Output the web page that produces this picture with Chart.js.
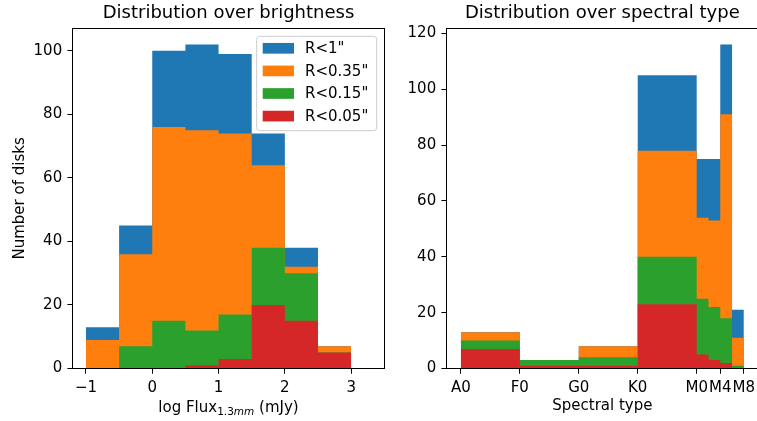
<!DOCTYPE html>
<html><head><meta charset="utf-8">
<script src="https://cdn.jsdelivr.net/npm/chart.js@4/dist/chart.umd.min.js"></script>
<style>
html,body{margin:0;padding:0;background:#fff;overflow:hidden;width:757px;height:421px}
#c1{position:absolute;left:0;top:0}
#c2{position:absolute;left:400px;top:0}
</style></head><body>
<canvas id="c1" width="400" height="421"></canvas>
<canvas id="c2" width="360" height="421"></canvas>
<script>
// ---- data ----
const seriesNames = ['R<1"', 'R<0.35"', 'R<0.15"', 'R<0.05"'];
const seriesColors = ['#1f77b4', '#ff7f0e', '#2ca02c', '#d62728'];

const fluxBinEdges = [-1, -0.5, 0, 0.5, 1, 1.5, 2, 2.5, 3];
const fluxR1   = [13, 45, 100, 102, 99, 74, 38, 7];
const fluxR035 = [9, 36, 76, 75, 74, 64, 32, 7];
const fluxR015 = [0, 7, 15, 12, 17, 38, 30, 5];
const fluxR005 = [0, 0, 0, 1, 3, 20, 15, 5];
const fluxTickValues = [-1, 0, 1, 2, 3];
const fluxTickLabels = ['\u22121', '0', '1', '2', '3'];
const fluxYTicks = [0, 20, 40, 60, 80, 100];

const sptBinEdges = [0, 10, 20, 30, 40, 42, 44, 46, 48];
const sptR1   = [13, 3, 8, 105, 75, 75, 116, 21];
const sptR035 = [13, 3, 8, 78, 54, 53, 91, 11];
const sptR015 = [10, 3, 4, 40, 25, 22, 18, 1];
const sptR005 = [7, 1, 1, 23, 5, 3, 2, 0];
const sptTickValues = [0, 10, 20, 30, 40, 44, 48];
const sptTickLabels = ['A0', 'F0', 'G0', 'K0', 'M0', 'M4', 'M8'];
const sptYTicks = [0, 20, 40, 60, 80, 100, 120];

// ---- helpers ----
Chart.defaults.font.family = '"DejaVu Sans", sans-serif';
Chart.defaults.font.size = 15;
Chart.defaults.color = '#000';

function histPoints(edges, counts) {
  const pts = counts.map((c, i) => ({ x: edges[i], y: c }));
  pts.push({ x: edges[edges.length - 1], y: 0 });
  return pts;
}
function makeDatasets(edges, list) {
  return list.map((counts, i) => ({
    label: seriesNames[i],
    data: histPoints(edges, counts),
    stepped: 'before',
    fill: 'origin',
    backgroundColor: seriesColors[i],
    borderColor: 'rgba(0,0,0,0)',
    borderWidth: 0,
    pointRadius: 0,
    pointHoverRadius: 0,
    order: list.length - i
  }));
}
function xAxis(min, max, values, labels, title) {
  return {
    type: 'linear', min: min, max: max,
    afterBuildTicks: s => { s.ticks = values.map(v => ({ value: v })); },
    ticks: { callback: v => labels[values.indexOf(v)], padding: 5.2, maxRotation: 0, autoSkip: false, color: '#000', font: { size: 15 } },
    grid: { display: true, drawOnChartArea: false, drawTicks: true, tickLength: 5.3, color: '#000', lineWidth: 1 },
    border: { display: true, color: '#000', width: 1 },
    title: title ? { display: true, text: title, color: '#000', font: { size: 15 }, padding: { top: 0, bottom: 6 } } : { display: false },
    afterFit: s => { s.height = 52.5; s.paddingLeft = 0; s.paddingRight = 0; }
  };
}
function yAxis(max, values, width, title) {
  return {
    type: 'linear', min: 0, max: max,
    afterBuildTicks: s => { s.ticks = values.map(v => ({ value: v })); },
    ticks: { callback: v => String(v), padding: 5.2, color: '#000', font: { size: 15 } },
    grid: { display: true, drawOnChartArea: false, drawTicks: true, tickLength: 5.3, color: '#000', lineWidth: 1 },
    border: { display: true, color: '#000', width: 1 },
    title: title ? { display: true, text: title, color: '#000', font: { size: 15 }, padding: { top: 11.5, bottom: 0 } } : { display: false },
    afterFit: s => { s.width = width; s.paddingTop = 0; s.paddingBottom = 0; }
  };
}
function align(p) { return Math.round(p - 0.5) + 0.5; }
const framePlugin = {
  id: 'frame',
  afterDatasetsDraw(chart) {
    const ctx = chart.ctx, ca = chart.chartArea;
    ctx.save();
    ctx.strokeStyle = '#000';
    ctx.lineWidth = 1;
    const l = align(ca.left), r = align(ca.right), t = align(ca.top), b = align(ca.bottom);
    ctx.strokeRect(l, t, r - l, b - t);
    ctx.restore();
  }
};
const legendPlugin = {
  id: 'mplLegend',
  afterDraw(chart) {
    const ctx = chart.ctx, ca = chart.chartArea;
    const x0 = ca.right - 127.6, y0 = ca.top + 8, w = 120, h = 94.4, r = 3;
    ctx.save();
    ctx.beginPath();
    ctx.moveTo(x0 + r, y0);
    ctx.arcTo(x0 + w, y0, x0 + w, y0 + h, r);
    ctx.arcTo(x0 + w, y0 + h, x0, y0 + h, r);
    ctx.arcTo(x0, y0 + h, x0, y0, r);
    ctx.arcTo(x0, y0, x0 + w, y0, r);
    ctx.closePath();
    ctx.fillStyle = 'rgba(255,255,255,0.8)';
    ctx.fill();
    ctx.strokeStyle = '#cccccc';
    ctx.lineWidth = 1;
    ctx.stroke();
    ctx.font = '15px "DejaVu Sans"';
    ctx.textBaseline = 'middle';
    ctx.textAlign = 'left';
    chart.data.datasets.forEach((ds, i) => {
      const cy = y0 + 12 + i * 22.6;
      ctx.fillStyle = ds.backgroundColor;
      ctx.fillRect(x0 + 6, cy - 5.35, 31.3, 10.7);
      ctx.fillStyle = '#000';
      ctx.fillText(ds.label, x0 + 48.3, cy + 0.8);
    });
    ctx.restore();
  }
};
const fluxTitlePlugin = {
  id: 'fluxTitle',
  afterDraw(chart) {
    const ctx = chart.ctx, ca = chart.chartArea;
    const cx = (ca.left + ca.right) / 2;
    const base = ca.bottom + 43.8;
    const parts = [
      { t: 'log Flux', f: '15px "DejaVu Sans"', dy: 0 },
      { t: '1.3', f: '10.5px "DejaVu Sans"', dy: 2.6 },
      { t: 'mm', f: 'oblique 10.5px "DejaVu Sans"', dy: 2.6 },
      { t: ' (mJy)', f: '15px "DejaVu Sans"', dy: 0 }
    ];
    ctx.save();
    ctx.fillStyle = '#000';
    ctx.textBaseline = 'alphabetic';
    ctx.textAlign = 'left';
    let total = 0;
    parts.forEach(p => { ctx.font = p.f; p.w = ctx.measureText(p.t).width; total += p.w; });
    let x = cx - total / 2;
    parts.forEach(p => { ctx.font = p.f; ctx.fillText(p.t, x, base + p.dy); x += p.w; });
    ctx.restore();
  }
};
function titleOpts(text) {
  return { display: true, text: text, color: '#000', font: { size: 18, weight: 'normal' }, padding: { top: 2.8, bottom: 3.9 }, fullSize: false };
}

// ---- left chart ----
new Chart(document.getElementById('c1'), {
  type: 'line',
  data: { datasets: makeDatasets(fluxBinEdges, [fluxR1, fluxR035, fluxR015, fluxR005]) },
  options: {
    responsive: false, animation: false,
    layout: { padding: { top: 0, left: 0, right: 15.7, bottom: 0 } },
    plugins: { legend: { display: false }, tooltip: { enabled: false }, title: titleOpts('Distribution over brightness') },
    scales: {
      x: xAxis(-1.2, 3.5, fluxTickValues, fluxTickLabels, null),
      y: yAxis(107.1, fluxYTicks, 72.7, 'Number of disks')
    }
  },
  plugins: [framePlugin, legendPlugin, fluxTitlePlugin]
});

// ---- right chart ----
new Chart(document.getElementById('c2'), {
  type: 'line',
  data: { datasets: makeDatasets(sptBinEdges, [sptR1, sptR035, sptR015, sptR005]) },
  options: {
    responsive: false, animation: false,
    layout: { padding: { top: 0, left: 0, right: 2, bottom: 0 } },
    plugins: { legend: { display: false }, tooltip: { enabled: false }, title: titleOpts('Distribution over spectral type') },
    scales: {
      x: xAxis(-2.4, 50.4, sptTickValues, sptTickLabels, 'Spectral type'),
      y: yAxis(121.8, sptYTicks, 46.7, null)
    }
  },
  plugins: [framePlugin]
});
</script>
</body></html>
